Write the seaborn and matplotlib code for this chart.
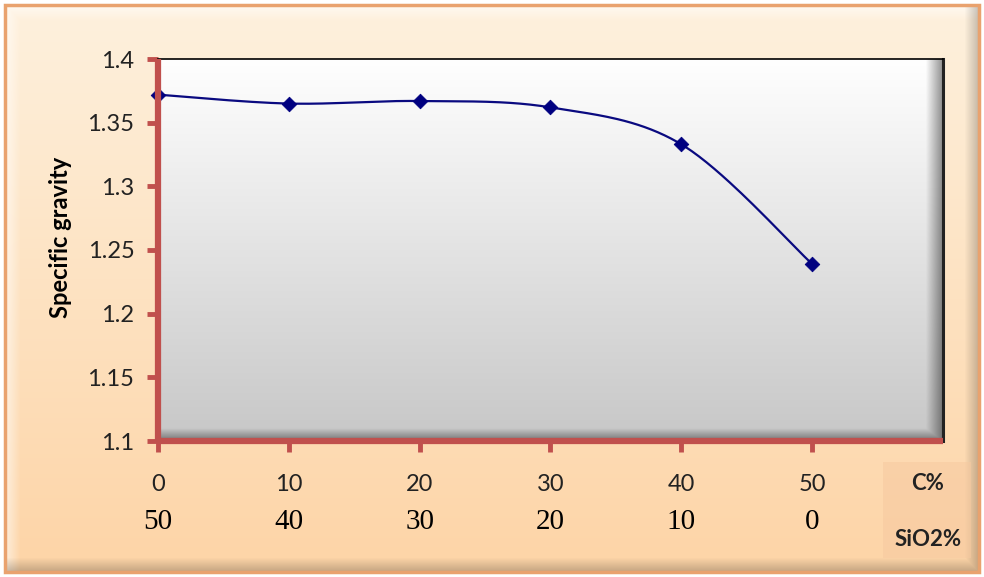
import numpy as np
import matplotlib
matplotlib.use("Agg")
import matplotlib.pyplot as plt
from matplotlib.patches import Rectangle
from matplotlib.transforms import blended_transform_factory
import seaborn as sns

# Composition series: carbon content and the matching silica content
c_pct = [0, 10, 20, 30, 40, 50]
sio2_pct = [50, 40, 30, 20, 10, 0]
specific_gravity = [1.372, 1.365, 1.367, 1.362, 1.333, 1.239]
y_ticks = [1.1, 1.15, 1.2, 1.25, 1.3, 1.35, 1.4]
y_tick_labels = ["1.1", "1.15", "1.2", "1.25", "1.3", "1.35", "1.4"]

sns.set_theme(style="white")
plt.rcParams["font.family"] = ["Lato", "DejaVu Sans"]

W, H = 984, 577
fig = plt.figure(figsize=(W / 100, H / 100), dpi=100)

# ---- peach bevelled panel behind everything ----
bg = fig.add_axes([0, 0, 1, 1], zorder=-10)
yy, xx = np.mgrid[0:H, 0:W].astype(float)
t = yy / H
top = np.array([254, 241, 222]) / 255
bot = np.array([253, 212, 166]) / 255
img = top[None, None, :] * (1 - t[..., None]) + bot[None, None, :] * t[..., None]
# bevel: light on top/left edges, darker on right/bottom edges
inset = 6
bw = 14.0
dl = np.clip((xx - inset) / bw, 0, 1)
dt = np.clip((yy - inset) / bw, 0, 1)
dr = np.clip((W - inset - xx) / bw, 0, 1)
db = np.clip((H - inset - yy) / bw, 0, 1)
light = (1 - np.minimum(dl, dt)) * 0.55
dark = (1 - np.minimum(dr, db)) * 0.22
img = img + (1 - img) * light[..., None]
img = img * (1 - dark[..., None])
img = np.clip(img, 0, 1)
outside = (xx < inset) | (yy < inset) | (xx > W - inset) | (yy > H - inset)
img[outside] = 1.0
bg.imshow(img, extent=[0, W, H, 0], aspect="auto", interpolation="bilinear")
bg.add_patch(Rectangle((inset - 1, inset - 1), W - 2 * inset + 2, H - 2 * inset + 2,
                       fill=False, ec="#e9a26e", lw=2.5))
# shaded box behind the axis captions
bg.add_patch(Rectangle((883, 462), 88, 96, fc="#f6c9a0", ec="none", alpha=0.55))
bg.set_xlim(0, W)
bg.set_ylim(H, 0)
bg.axis("off")

# ---- plot area ----
x0, x1, y0, y1 = 158, 943, 59, 441
ax = fig.add_axes([x0 / W, 1 - y1 / H, (x1 - x0) / W, (y1 - y0) / H])
ax.set_xlim(0, 60)
ax.set_ylim(1.1, 1.4)

ph, pw = 400, 800
py, px = np.mgrid[0:ph, 0:pw].astype(float)
g = 1.0 - (py / ph) * 0.22
pimg = np.dstack([g, g, g])
# soft inner shadow along right and bottom edges
sr = np.clip((pw - px) / 18.0, 0, 1)
sb = np.clip((ph - py) / 14.0, 0, 1)
sh = (1 - np.minimum(sr, sb)) * 0.45
pimg = pimg * (1 - sh[..., None])
ax.imshow(pimg, extent=[0, 60, 1.1, 1.4], aspect="auto", zorder=0,
          interpolation="bilinear")

# smooth curve through the points (Catmull-Rom style Bezier segments)
pts = np.column_stack([np.array(c_pct, float), np.array(specific_gravity, float)])
curve = []
n = len(pts)
s = np.linspace(0, 1, 40)
for i in range(n - 1):
    p0 = pts[max(i - 1, 0)]
    p1 = pts[i]
    p2 = pts[i + 1]
    p3 = pts[min(i + 2, n - 1)]
    c1 = p1 + (p2 - p0) / 6.0
    c2 = p2 - (p3 - p1) / 6.0
    b = ((1 - s) ** 3)[:, None] * p1 + (3 * (1 - s) ** 2 * s)[:, None] * c1 \
        + (3 * (1 - s) * s ** 2)[:, None] * c2 + (s ** 3)[:, None] * p2
    curve.append(b if i == 0 else b[1:])
curve = np.vstack(curve)
sns.lineplot(x=curve[:, 0], y=curve[:, 1], sort=False, ax=ax, color="#0a0a80",
             lw=1.6, zorder=3)
sns.scatterplot(x=c_pct, y=specific_gravity, ax=ax, marker="D", s=55,
                color="#000080", edgecolor="#000080", zorder=4, clip_on=False)

# axes styling
red = "#c0504d"
for side in ("left", "bottom"):
    ax.spines[side].set_color(red)
    ax.spines[side].set_linewidth(4.5)
    ax.spines[side].set_capstyle("butt")
    ax.spines[side].set_zorder(5)
ax.spines["top"].set_color("black")
ax.spines["top"].set_linewidth(1.2)
ax.spines["right"].set_color("#222222")
ax.spines["right"].set_linewidth(2.2)

ax.set_yticks(y_ticks)
ax.set_yticklabels(y_tick_labels)
ax.set_xticks(c_pct)
ax.set_xticklabels([str(v) for v in c_pct])
ax.tick_params(axis="both", direction="out", length=8, width=3.5, color=red,
               labelsize=17, labelcolor="#222222", bottom=True, left=True)
ax.tick_params(axis="x", pad=16)
ax.tick_params(axis="y", pad=9)

ax.set_ylabel("Specific gravity", fontsize=17, fontweight="bold", color="black")
ax.yaxis.set_label_coords(-0.109, 0.534)

# second row of the category axis: SiO2 content
tr = blended_transform_factory(ax.transData, fig.transFigure)
for xv, lab in zip(c_pct, sio2_pct):
    ax.text(xv, 1 - 522 / H, str(lab), transform=tr, ha="center", va="center",
            fontsize=21, family=["Liberation Serif", "DejaVu Serif"],
            color="black")

fig.text(928 / W, 1 - 483 / H, "C%", ha="center", va="center", fontsize=16,
         fontweight="bold", color="#222222")
fig.text(928 / W, 1 - 540 / H, "SiO2%", ha="center", va="center", fontsize=16,
         fontweight="bold", color="#222222")

fig.savefig("out.png", dpi=100)
